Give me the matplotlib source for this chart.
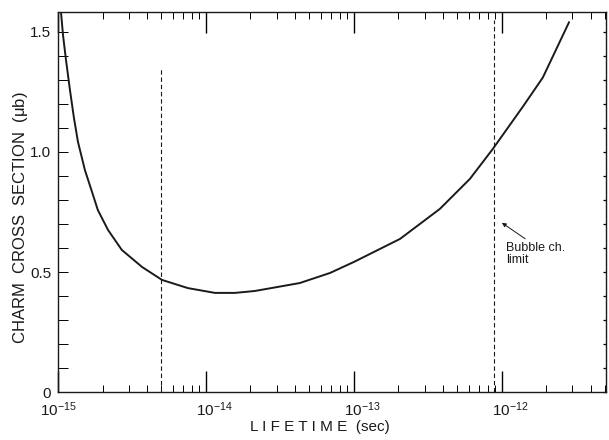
import matplotlib.pyplot as plt
import matplotlib.ticker as mticker
from matplotlib.transforms import ScaledTranslation

plt.rcParams['font.family'] = ['Liberation Sans', 'DejaVu Sans']
plt.rcParams['mathtext.default'] = 'regular'

# curve (lifetime in sec, cross section in micro-barn)
lifetime = [1.048e-15, 1.081e-15, 1.133e-15, 1.205e-15, 1.282e-15, 1.365e-15,
            1.52e-15, 1.70e-15, 1.86e-15, 2.18e-15, 2.70e-15, 3.70e-15, 5.05e-15,
            7.55e-15, 1.15e-14, 1.57e-14, 2.14e-14, 4.3e-14, 6.89e-14, 1.0e-13,
            2.05e-13, 3.81e-13, 6.08e-13, 8.69e-13, 1.39e-12, 1.89e-12, 2.84e-12]
sigma = [1.583, 1.488, 1.383, 1.258, 1.142, 1.042, 0.925, 0.833, 0.758, 0.675,
         0.592, 0.521, 0.467, 0.433, 0.413, 0.413, 0.421, 0.454, 0.496, 0.542,
         0.638, 0.763, 0.888, 1.013, 1.19, 1.31, 1.54]

dash_x = [5e-15, 8.8e-13]
dash_top = [1.355, 1.55]

xticks = [1e-15, 1e-14, 1e-13, 1e-12]
xtick_labels = ['$10^{-15}$', '$10^{-14}$', '$10^{-13}$', '$10^{-12}$']
yticks = [0, 0.5, 1.0, 1.5]
ytick_labels = ['0', '0.5', '1.0', '1.5']

ink = '#1a1a1a'

fig = plt.figure(figsize=(6.09, 4.40), dpi=100)
ax = fig.add_axes([0.0952, 0.109, 0.8998, 0.8636])

ax.plot(lifetime, sigma, color=ink, lw=1.4)
for x, top in zip(dash_x, dash_top):
    ax.plot([x, x], [0, top], color=ink, lw=0.8, ls=(0, (4, 2.5)))

ax.annotate('Bubble ch.\nlimit', xy=(1.0e-12, 0.705), xytext=(1.06e-12, 0.575),
            fontsize=9, color=ink, ha='left', va='center', linespacing=1.1,
            arrowprops=dict(arrowstyle='-|>', color=ink, lw=0.7,
                            mutation_scale=6, shrinkA=0, shrinkB=0,
                            relpos=(0.4, 1.0)))

ax.set_xscale('log')
ax.set_xlim(1e-15, 5.05e-12)
ax.set_ylim(0, 1.583)

ax.set_xticks(xticks)
ax.set_xticklabels(xtick_labels, fontsize=11, color=ink)
ax.xaxis.set_minor_locator(mticker.LogLocator(base=10, subs=range(2, 10)))
ax.xaxis.set_minor_formatter(mticker.NullFormatter())
ax.tick_params(axis='x', which='major', direction='in', length=15, width=1.0,
               top=True, pad=6)
ax.tick_params(axis='x', which='minor', direction='in', length=5, width=0.7,
               top=True)
for lab in ax.get_xticklabels()[1:]:
    lab.set_transform(lab.get_transform() + ScaledTranslation(0.08, 0, fig.dpi_scale_trans))

ax.set_yticks(yticks)
ax.set_yticklabels(ytick_labels, fontsize=11, color=ink)
ax.yaxis.set_minor_locator(mticker.MultipleLocator(0.1))
ax.tick_params(axis='y', which='both', direction='in', length=7, width=0.7,
               right=False, pad=5)

right = ax.secondary_yaxis('right')
right.set_yticks([i / 10 for i in range(16)])
right.set_yticklabels([])
right.tick_params(direction='in', length=2.5, width=0.9)
right.spines['right'].set_visible(False)

for s in ax.spines.values():
    s.set_linewidth(1.0)
    s.set_color(ink)

fig.text(0.034, 0.505, 'CHARM  CROSS  SECTION  ($\\mu$b)', rotation=90,
         ha='center', va='center', fontsize=12, color=ink)
fig.text(0.525, 0.03, 'L I F E T I M E  (sec)', ha='center', va='center',
         fontsize=11, color=ink)

fig.savefig('out.png', dpi=100)
